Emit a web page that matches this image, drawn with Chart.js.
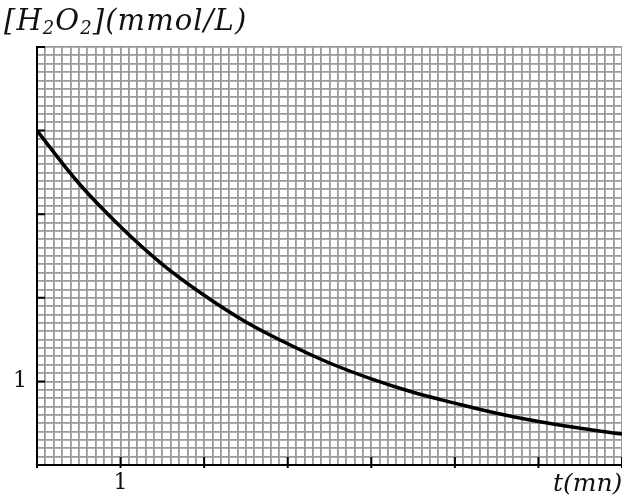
<!DOCTYPE html>
<html>
<head>
<meta charset="utf-8">
<script src="https://cdn.jsdelivr.net/npm/chart.js@4"></script>
<style>
  html, body { margin: 0; padding: 0; background: #fff; }
  #wrap { position: relative; width: 622px; height: 499px; overflow: hidden; }
  .lbl { position: absolute; font-family: "DejaVu Serif", serif; font-style: italic; color: #111; white-space: nowrap; line-height: 1; }
  .lbl sub { font-size: 62%; vertical-align: -0.25em; }
</style>
</head>
<body>
<div id="wrap">
  <canvas id="chart" width="622" height="499"></canvas>
  <div class="lbl" id="ytitle" style="left:4px; top:6px; font-size:29px; letter-spacing:1.1px;">[H<sub>2</sub>O<sub>2</sub>](mmol/L)</div>
  <div class="lbl" id="xtitle" style="left:553px; top:470px; font-size:25px;">t(mn)</div>
</div>
<script>
// time in minutes, concentration in mmol/L
const times = [0, 0.5, 1, 1.5, 2, 2.5, 3, 3.5, 4, 4.5, 5, 5.5, 6, 6.5, 7];
const conc = [4.0, 3.37, 2.85, 2.40, 2.03, 1.71, 1.45, 1.22, 1.03, 0.87, 0.74, 0.62, 0.52, 0.44, 0.37];
const xTickLabels = ["1"];
const yTickLabels = ["1"];

const points = times.map((t, i) => ({ x: t, y: conc[i] }));

function labelFor(list) {
    return v => list.includes(String(Math.round(v * 10) / 10)) ? String(Math.round(v * 10) / 10) : "";
}

// short major ticks drawn inside the plot, one per unit
const innerTicks = {
    id: "innerTicks",
    afterDraw(chart) {
        const { ctx, chartArea, scales } = chart;
        ctx.save();
        ctx.strokeStyle = "#000";
        ctx.lineWidth = 2;
        ctx.beginPath();
        for (let i = 0; i <= 7; i++) {
            const px = scales.x.getPixelForValue(i);
            ctx.moveTo(px, chartArea.bottom + 3);
            ctx.lineTo(px, chartArea.bottom - 8);
        }
        for (let i = 0; i <= 5; i++) {
            const py = scales.y.getPixelForValue(i);
            ctx.moveTo(chartArea.left, py);
            ctx.lineTo(chartArea.left + 8, py);
        }
        ctx.stroke();
        ctx.restore();
    }
};

new Chart(document.getElementById("chart"), {
    type: "line",
    data: {
        datasets: [{
            data: points,
            borderColor: "#000",
            borderWidth: 3.5,
            pointRadius: 0,
            tension: 0.4,
            fill: false
        }]
    },
    options: {
        responsive: false,
        animation: false,
        layout: { padding: { top: 47, right: 0 } },
        plugins: { legend: { display: false }, tooltip: { enabled: false } },
        scales: {
            x: {
                type: "linear",
                min: 0,
                max: 7,
                afterFit: s => { s.height = 34; s.paddingRight = 0; s.paddingLeft = 0; },
                ticks: {
                    stepSize: 0.1,
                    autoSkip: false,
                    maxTicksLimit: 200,
                    maxRotation: 0,
                    padding: 5,
                    color: "#111",
                    font: { family: "DejaVu Serif", size: 22 },
                    callback: labelFor(xTickLabels)
                },
                grid: { color: "#999", lineWidth: 1.8, drawTicks: false },
                border: { color: "#000", width: 2 }
            },
            y: {
                min: 0,
                max: 5,
                afterFit: s => { s.width = 37; s.paddingTop = 0; s.paddingBottom = 0; },
                ticks: {
                    stepSize: 0.1,
                    autoSkip: false,
                    maxTicksLimit: 200,
                    padding: 10,
                    color: "#111",
                    font: { family: "DejaVu Serif", size: 22 },
                    callback: labelFor(yTickLabels)
                },
                grid: { color: "#999", lineWidth: 1.8, drawTicks: false },
                border: { color: "#000", width: 2 }
            }
        }
    },
    plugins: [innerTicks]
});
</script>
</body>
</html>
